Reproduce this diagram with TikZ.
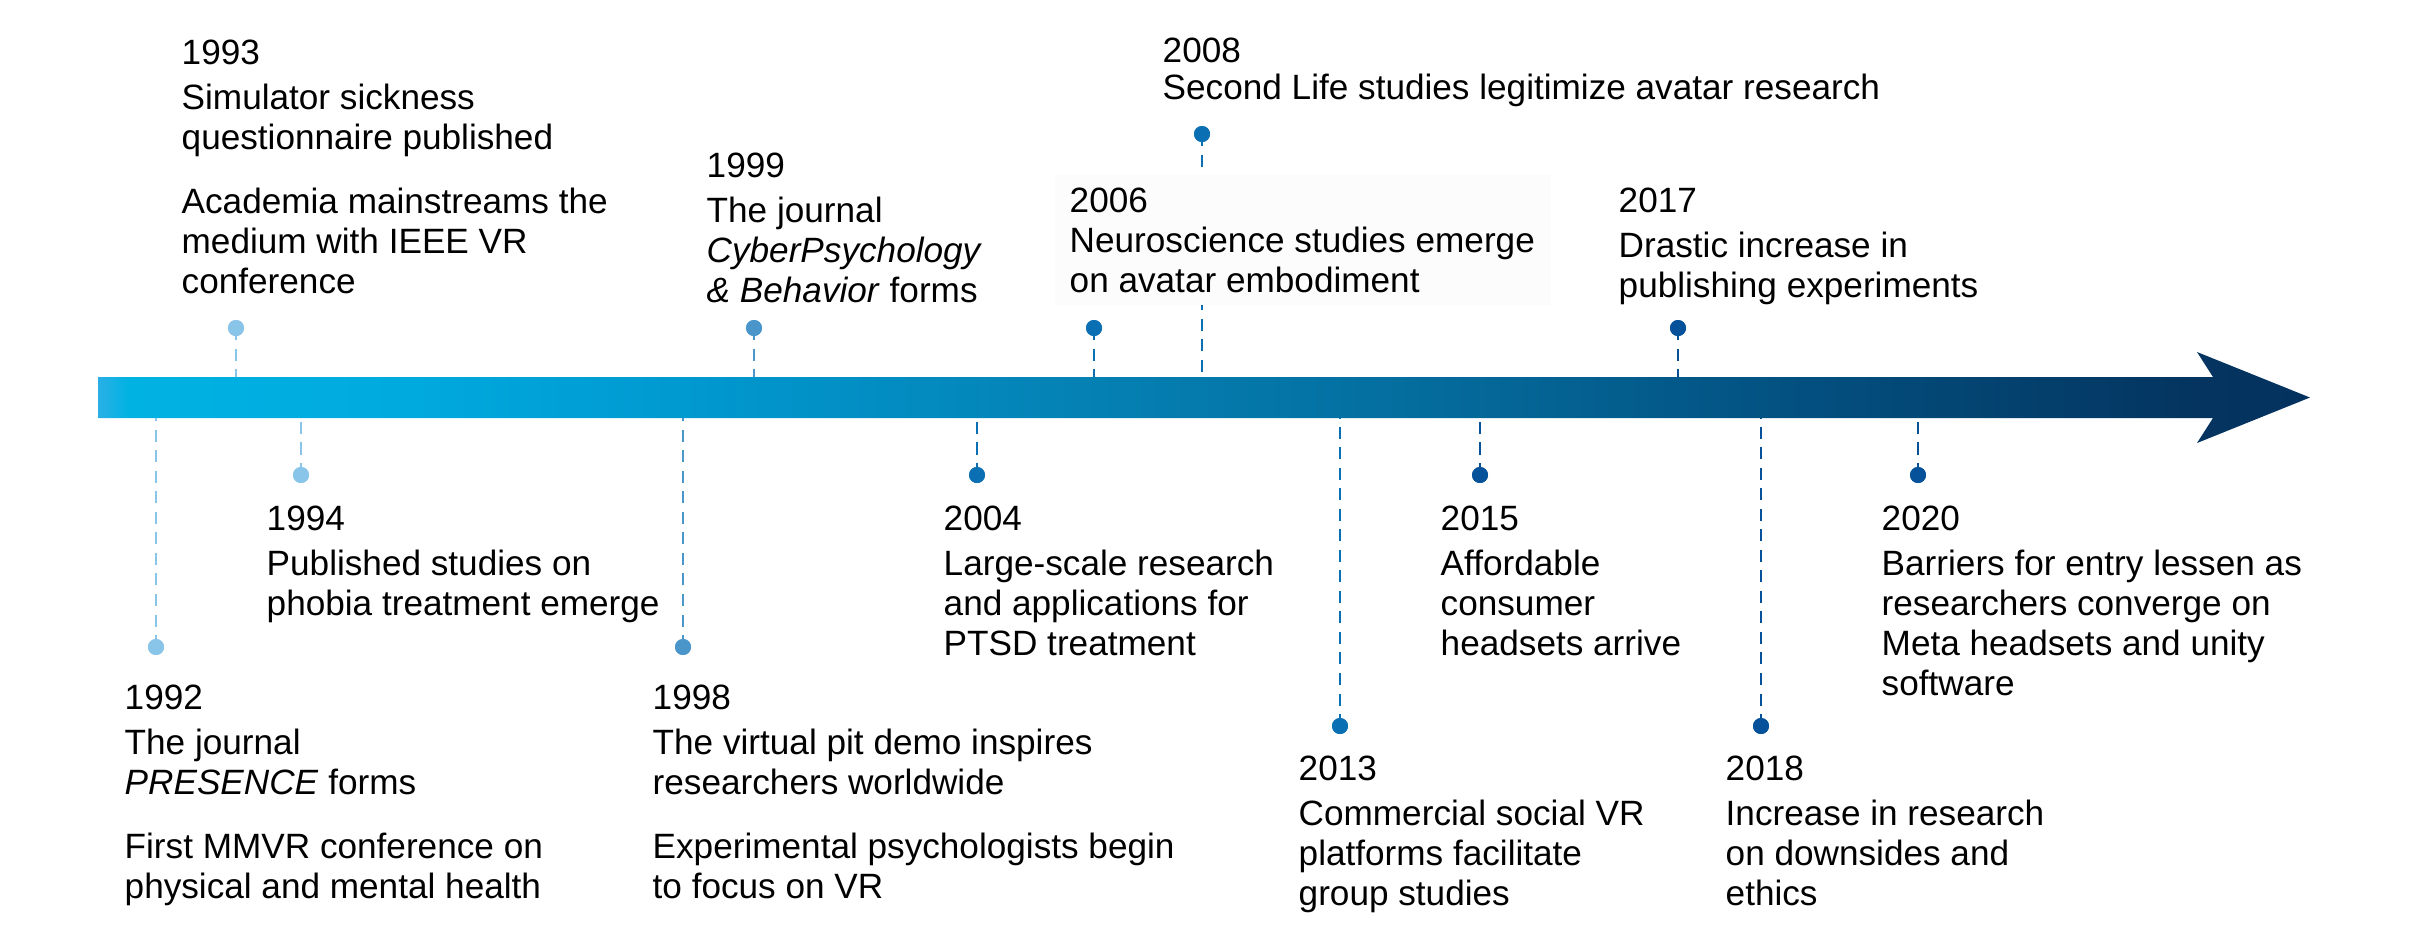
\documentclass[tikz,border=0pt]{standalone}
\usepackage{fontspec}
\setmainfont{Liberation Sans}
\definecolor{cA}{HTML}{89C4E9}
\definecolor{cB}{HTML}{4A96CB}
\definecolor{cC}{HTML}{0B70B3}
\definecolor{cD}{HTML}{05519A}
\definecolor{boxgray}{HTML}{FCFCFC}
\definecolor{g0}{HTML}{2AB0E6}
\definecolor{g1}{HTML}{00B2E2}
\definecolor{g2}{HTML}{00AADF}
\definecolor{g3}{HTML}{0098CF}
\definecolor{g4}{HTML}{0580B3}
\definecolor{g5}{HTML}{046E9F}
\definecolor{g6}{HTML}{035080}
\definecolor{g7}{HTML}{04345F}
\definecolor{g8}{HTML}{04325F}
\pgfdeclarehorizontalshading{barshade}{100bp}{%
  color(0bp)=(g0); color(25bp)=(g0); color(25.7bp)=(g1); color(31.8bp)=(g2);
  color(38.6bp)=(g3); color(47.6bp)=(g4); color(54.4bp)=(g5); color(63.5bp)=(g6);
  color(72.5bp)=(g7); color(75bp)=(g8); color(100bp)=(g8)}
\tikzset{
  evt/.style={anchor=north west, inner sep=0pt, align=left,
    font=\fontsize{10}{11.44}\selectfont, text=black},
  dotnode/.style={circle, fill=#1, draw=none, minimum size=0.16cm, inner sep=0pt},
  stem/.style={draw=#1, line width=0.025cm, dash pattern=on 0.12cm off 0.085cm},
}
\begin{document}
\begin{tikzpicture}[x=0.01cm, y=-0.01cm]
\useasboundingbox (0,0) rectangle (2423,929);
% timeline arrow
\shade[shading=barshade] (98,377) -- (2213,377) -- (2197,352) -- (2310,397.5)
  -- (2197,443) -- (2213,418) -- (98,418) -- cycle;
% bar anchor points
\coordinate (t93) at (236,377);
\coordinate (t99) at (754,377);
\coordinate (t06) at (1094,377);
\coordinate (t08) at (1202,377);
\coordinate (t17) at (1678,377);
\coordinate (b92) at (156,418);
\coordinate (b94) at (301,418);
\coordinate (b98) at (683,418);
\coordinate (b04) at (977,418);
\coordinate (b13) at (1340,418);
\coordinate (b15) at (1480,418);
\coordinate (b18) at (1761,418);
\coordinate (b20) at (1918,418);
% dots
\node[dotnode=cA] (d93) at (236,328) {};
\node[dotnode=cB] (d99) at (754,328) {};
\node[dotnode=cC] (d06) at (1094,328) {};
\node[dotnode=cC] (d08) at (1202,134) {};
\node[dotnode=cD] (d17) at (1678,328) {};
\node[dotnode=cA] (d92) at (156,647) {};
\node[dotnode=cA] (d94) at (301,475) {};
\node[dotnode=cB] (d98) at (683,647) {};
\node[dotnode=cC] (d04) at (977,475) {};
\node[dotnode=cC] (d13) at (1340,726) {};
\node[dotnode=cD] (d15) at (1480,475) {};
\node[dotnode=cD] (d18) at (1761,726) {};
\node[dotnode=cD] (d20) at (1918,475) {};
% stems
\draw[stem=cA] (d93.center) -- (t93);
\draw[stem=cB] (d99.center) -- (t99);
\draw[stem=cC] (d06.center) -- (t06);
\draw[stem=cC] (d08.center) -- (t08);
\draw[stem=cD] (d17.center) -- (t17);
\draw[stem=cA] (d92.center) -- (b92);
\draw[stem=cA] (d94.center) -- (b94);
\draw[stem=cB] (d98.center) -- (b98);
\draw[stem=cC] (d04.center) -- (b04);
\draw[stem=cC] (d13.center) -- (b13);
\draw[stem=cD] (d15.center) -- (b15);
\draw[stem=cD] (d18.center) -- (b18);
\draw[stem=cD] (d20.center) -- (b20);
% redraw dots on top
\foreach \n/\c in {d93/cA,d99/cB,d06/cC,d08/cC,d17/cD,d92/cA,d94/cA,d98/cB,d04/cC,d13/cC,d15/cD,d18/cD,d20/cD}
  \fill[\c] (\n) circle (8);
% 2006 background box
\fill[boxgray] (1055,175) rectangle (1551,305);
% labels
\node[evt] (l93) at (181,39) {1993\\[1.3pt]Simulator sickness\\questionnaire published\\[6.8pt]Academia mainstreams the\\medium with IEEE VR\\conference};
\node[evt] (l99) at (706,152) {1999\\[1.3pt]The journal\\\textit{CyberPsychology}\\\textit{\&~Behavior} forms};
\node[evt] (l06) at (1069,187) {2006\\[0pt]Neuroscience studies emerge\\on avatar embodiment};
\node[evt] (l08) at (1162,37) {2008\\[-0.8pt]Second Life studies legitimize avatar research};
\node[evt] (l17) at (1618,187) {2017\\[1.3pt]Drastic increase in\\publishing experiments};
\node[evt] (l94) at (266,505) {1994\\[1.3pt]Published studies on\\phobia treatment emerge};
\node[evt] (l04) at (943,505) {2004\\[1.3pt]Large-scale research\\and applications for\\PTSD treatment};
\node[evt] (l15) at (1440,505) {2015\\[1.3pt]Affordable\\consumer\\headsets arrive};
\node[evt] (l20) at (1881,505) {2020\\[1.3pt]Barriers for entry lessen as\\researchers converge on\\Meta headsets and unity\\software};
\node[evt] (l92) at (124,684) {1992\\[1.3pt]The journal\\\textit{PRESENCE} forms\\[6.8pt]First MMVR conference on\\physical and mental health};
\node[evt] (l98) at (652,684) {1998\\[1.3pt]The virtual pit demo inspires\\researchers worldwide\\[6.8pt]Experimental psychologists begin\\to focus on VR};
\node[evt] (l13) at (1298,755) {2013\\[1.3pt]Commercial social VR\\platforms facilitate\\group studies};
\node[evt] (l18) at (1725,755) {2018\\[1.3pt]Increase in research\\on downsides and\\ethics};
\end{tikzpicture}
\end{document}
